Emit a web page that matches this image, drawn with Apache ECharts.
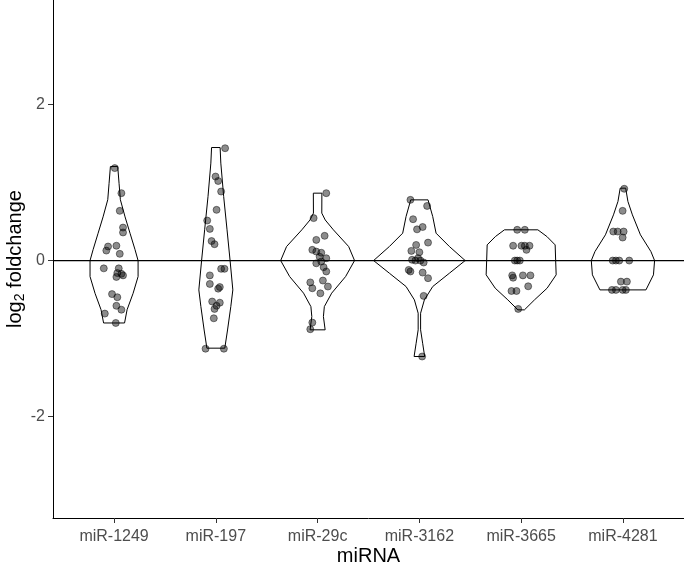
<!DOCTYPE html>
<html>
<head>
<meta charset="utf-8">
<script src="https://cdn.jsdelivr.net/npm/echarts@6/dist/echarts.min.js"></script>
<style>
  html, body { margin: 0; padding: 0; background: #fff; }
  #chart { width: 684px; height: 570px; }
</style>
</head>
<body>
<div id="chart"></div>
<script>
  // categories on the x axis
  const categories = ['miR-1249', 'miR-197', 'miR-29c', 'miR-3162', 'miR-3665', 'miR-4281'];
  const yTicks = [-2, 0, 2];

  // violin outlines: [log2 foldchange, half width in category units]
  const outline1249 = [[1.205, 0.036], [0.99, 0.049], [0.78, 0.062], [0.56, 0.108], [0.35, 0.157], [0.14, 0.206], [0, 0.236], [-0.205, 0.236], [-0.42, 0.187], [-0.63, 0.128], [-0.80, 0.103]];
  const outline197 = [[1.449, 0.042], [1.249, 0.049], [0.82, 0.077], [0.394, 0.110], [0, 0.140], [-0.376, 0.167], [-0.59, 0.147], [-0.89, 0.115], [-1.123, 0.088]];
  const outline29c = [[0.864, 0.042], [0.608, 0.041], [0.52, 0.075], [0.394, 0.155], [0.18, 0.305], [0, 0.363], [-0.205, 0.275], [-0.418, 0.138], [-0.59, 0.066], [-0.718, 0.057], [-0.888, 0.074]];
  const outline3162 = [[0.778, 0.085], [0.564, 0.131], [0.351, 0.164], [0.18, 0.295], [0, 0.45], [-0.162, 0.295], [-0.333, 0.131], [-0.504, 0.049], [-0.675, 0.012], [-0.888, 0.012], [-1.06, 0.032], [-1.23, 0.052]];
  const outline3665 = [[0.394, 0.164], [0.308, 0.253], [0.201, 0.334], [0, 0.339], [-0.183, 0.344], [-0.354, 0.255], [-0.504, 0.131], [-0.632, 0.032]];
  const outline4281 = [[0.928, 0.027], [0.757, 0.049], [0.586, 0.093], [0.33, 0.172], [0.115, 0.275], [0, 0.311], [-0.183, 0.30], [-0.376, 0.226]];

  // jittered points: [x offset in category units, log2 foldchange]
  const points1249 = [[0.007, 1.185], [0.072, 0.864], [0.056, 0.637], [0.088, 0.423], [0.088, 0.36], [-0.059, 0.18], [-0.076, 0.128], [0.023, 0.19], [0.056, 0.086], [-0.101, -0.10], [0.046, -0.10], [0.032, -0.16], [0.072, -0.17], [0.088, -0.19], [0.023, -0.21], [-0.020, -0.43], [0.032, -0.47], [0.023, -0.58], [0.072, -0.63], [-0.091, -0.68], [0.017, -0.80]];
  const points197 = [[0.091, 1.44], [-0.003, 1.077], [0.023, 1.02], [0.052, 0.885], [0.007, 0.65], [-0.085, 0.513], [-0.059, 0.406], [-0.042, 0.25], [-0.013, 0.21], [0.052, -0.106], [0.085, -0.106], [-0.059, -0.19], [-0.059, -0.30], [0.023, -0.36], [0.039, -0.34], [-0.036, -0.525], [0.039, -0.54], [0.007, -0.58], [-0.013, -0.62], [-0.020, -0.74], [-0.101, -1.13], [0.079, -1.13]];
  const points29c = [[0.085, 0.864], [-0.039, 0.544], [0.069, 0.317], [-0.013, 0.265], [-0.052, 0.137], [-0.013, 0.115], [0.036, 0.10], [0.020, 0.05], [0.085, 0.03], [-0.013, -0.035], [0.036, -0.013], [0.059, -0.085], [0.085, -0.14], [-0.072, -0.28], [0.052, -0.256], [-0.052, -0.355], [0.101, -0.333], [0.027, -0.42], [-0.052, -0.795], [-0.072, -0.88]];
  const points3162 = [[-0.088, 0.778], [0.076, 0.70], [-0.062, 0.53], [-0.023, 0.40], [0.032, 0.43], [-0.032, 0.20], [0.085, 0.23], [-0.079, 0.124], [0, 0.107], [-0.013, 0.03], [-0.072, 0.01], [-0.039, 0], [0.010, 0], [0.042, -0.025], [-0.105, -0.12], [-0.088, -0.14], [0.032, -0.154], [0.085, -0.226], [0.042, -0.453], [0.027, -1.23]];
  const points3665 = [[-0.039, 0.394], [0.036, 0.394], [-0.079, 0.19], [0.003, 0.19], [0.036, 0.19], [0.082, 0.19], [0.052, 0.137], [-0.062, 0], [-0.039, 0], [-0.013, 0], [-0.088, -0.19], [-0.079, -0.22], [0.017, -0.19], [0.091, -0.19], [-0.095, -0.39], [-0.046, -0.39], [0.069, -0.33], [-0.029, -0.62]];
  const points4281 = [[0.013, 0.92], [-0.003, 0.637], [-0.095, 0.372], [-0.052, 0.372], [0.007, 0.372], [-0.003, 0.295], [-0.101, 0], [-0.069, 0], [-0.036, 0], [0.062, 0], [-0.020, -0.27], [0.039, -0.27], [-0.108, -0.376], [-0.069, -0.376], [-0.003, -0.376], [0.029, -0.376]];

  const outlines = [outline1249, outline197, outline29c, outline3162, outline3665, outline4281];
  const pointSets = [points1249, points197, points29c, points3162, points3665, points4281];

  const FONT = '"Liberation Sans", Arial, sans-serif';

  let scatterData = [];
  pointSets.forEach((pts, i) => {
    for (let p of pts) {
      scatterData.push([i + 1 + p[0], p[1]]);
    }
  });

  const chart = echarts.init(document.getElementById('chart'));
  const option = {
    animation: false,
    backgroundColor: '#fff',
    grid: {
      left: 53,
      right: 0,
      top: 0,
      bottom: 52,
      containLabel: false,
      outerBoundsMode: 'none'
    },
    xAxis: {
      type: 'value',
      min: 0.4,
      max: 6.6,
      name: 'miRNA',
      nameLocation: 'middle',
      nameGap: 28,
      nameMoveOverlap: false,
      nameTextStyle: { fontSize: 20, color: '#000', fontFamily: FONT },
      axisLine: { show: true, onZero: false, lineStyle: { color: '#000', width: 1 } },
      axisTick: { show: true, length: 5, customValues: [1, 2, 3, 4, 5, 6], lineStyle: { color: '#333', width: 1 } },
      axisLabel: {
        show: true,
        margin: 11,
        fontSize: 16,
        color: '#4d4d4d',
        fontFamily: FONT,
        customValues: [1, 2, 3, 4, 5, 6],
        formatter: v => categories[Math.round(v) - 1]
      },
      splitLine: { show: false }
    },
    yAxis: {
      type: 'value',
      min: -3.3,
      max: 3.34,
      name: '{a|log}{b|2}{a| foldchange}',
      nameLocation: 'middle',
      nameGap: 26,
      nameMoveOverlap: false,
      nameTextStyle: {
        fontFamily: FONT,
        rich: {
          a: { fontSize: 20, color: '#000', fontFamily: FONT, lineHeight: 24 },
          b: { fontSize: 14, color: '#000', fontFamily: FONT, lineHeight: 14, verticalAlign: 'bottom' }
        }
      },
      axisLine: { show: true, onZero: false, lineStyle: { color: '#000', width: 1 } },
      axisTick: { show: true, length: 5, customValues: yTicks, lineStyle: { color: '#333', width: 1 } },
      axisLabel: { show: true, margin: 8, fontSize: 16, color: '#4d4d4d', fontFamily: FONT, customValues: yTicks },
      splitLine: { show: false }
    },
    series: [
      {
        type: 'custom',
        z: 2,
        silent: true,
        data: categories.map((c, i) => [i + 1, 0, i]),
        renderItem: function (params, api) {
          const idx = api.value(2);
          const cx = idx + 1;
          const ol = outlines[idx];
          let pts = [];
          for (let k = 0; k < ol.length; k++) pts.push(api.coord([cx + ol[k][1], ol[k][0]]));
          for (let k = ol.length - 1; k >= 0; k--) pts.push(api.coord([cx - ol[k][1], ol[k][0]]));
          return {
            type: 'polygon',
            shape: { points: pts },
            style: { fill: 'none', stroke: '#000', lineWidth: 1 }
          };
        }
      },
      {
        type: 'line',
        z: 3,
        silent: true,
        symbol: 'none',
        data: [[0.4, 0], [6.6, 0]],
        lineStyle: { color: '#000', width: 1.3 }
      },
      {
        type: 'scatter',
        z: 4,
        silent: true,
        symbolSize: 7,
        data: scatterData,
        itemStyle: {
          color: 'rgba(0,0,0,0.45)',
          borderColor: 'rgba(0,0,0,0.45)',
          borderWidth: 1,
          opacity: 1
        }
      }
    ]
  };
  chart.setOption(option);
</script>
</body>
</html>
